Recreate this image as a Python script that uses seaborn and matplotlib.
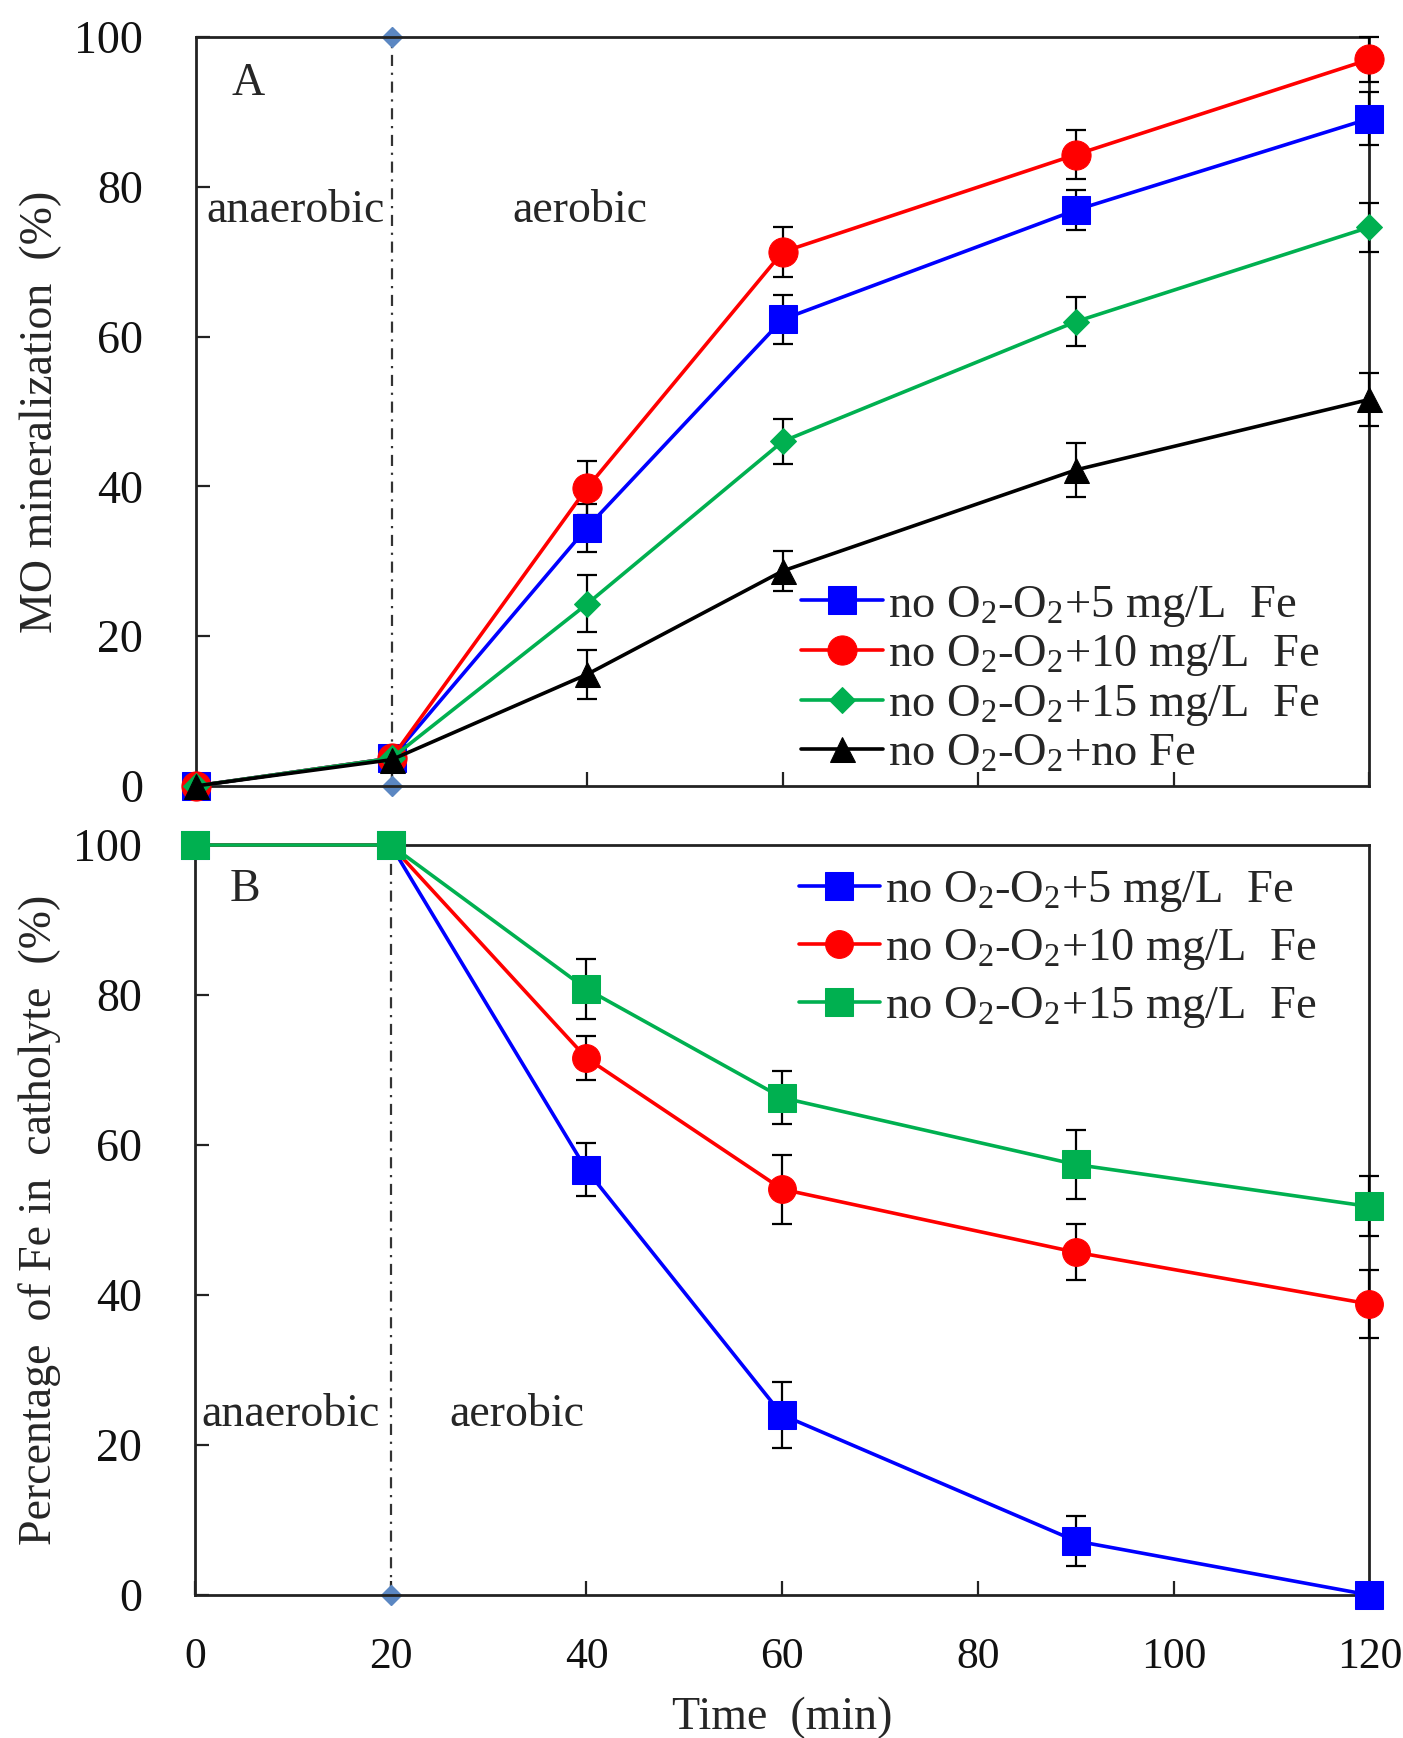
import numpy as np
import pandas as pd
import matplotlib
matplotlib.use("Agg")
import matplotlib.pyplot as plt
import seaborn as sns

# ---------------- data ----------------
time = [0, 20, 40, 60, 90, 120]

labels_A = [r"no O$_2$-O$_2$+5 mg/L  Fe", r"no O$_2$-O$_2$+10 mg/L  Fe",
            r"no O$_2$-O$_2$+15 mg/L  Fe", r"no O$_2$-O$_2$+no Fe"]
A_fe5 = [0, 3.7, 34.5, 62.3, 76.9, 89.1]
A_fe10 = [0, 3.7, 39.8, 71.3, 84.3, 97.0]
A_fe15 = [0, 3.7, 24.3, 46.0, 62.0, 74.6]
A_nofe = [0, 3.5, 14.9, 28.7, 42.2, 51.6]
A_fe5_err = [0, 0, 3.2, 3.3, 2.7, 3.5]
A_fe10_err = [0, 0, 3.6, 3.3, 3.3, 3.0]
A_fe15_err = [0, 0, 3.8, 3.0, 3.3, 3.3]
A_nofe_err = [0, 0, 3.3, 2.7, 3.6, 3.5]

labels_B = [r"no O$_2$-O$_2$+5 mg/L  Fe", r"no O$_2$-O$_2$+10 mg/L  Fe",
            r"no O$_2$-O$_2$+15 mg/L  Fe"]
B_fe5 = [100, 100, 56.7, 24.0, 7.2, 0]
B_fe10 = [100, 100, 71.6, 54.1, 45.7, 38.8]
B_fe15 = [100, 100, 80.8, 66.3, 57.4, 51.8]
B_fe5_err = [0, 0, 3.5, 4.4, 3.3, 0]
B_fe10_err = [0, 0, 3.0, 4.6, 3.7, 4.5]
B_fe15_err = [0, 0, 4.0, 3.5, 4.6, 4.0]

xticks = [0, 20, 40, 60, 80, 100, 120]
yticks = [0, 20, 40, 60, 80, 100]

# ---------------- style ----------------
sns.set_theme(style="white")
plt.rcParams["font.family"] = ["Liberation Serif", "DejaVu Serif"]
plt.rcParams["mathtext.default"] = "regular"
plt.rcParams["axes.edgecolor"] = "#222222"

FS = 33
XFS = 31.5
LFS = 33.5
fig = plt.figure(figsize=(14.03, 17.38), dpi=100)
axA = fig.add_axes([0.1397, 0.5478, 0.976 - 0.1397, 0.9787 - 0.5478])
axB = fig.add_axes([0.1390, 0.0823, 0.976 - 0.1390, 0.5138 - 0.0823])

BLUE, RED, GREEN, BLACK = "#0000ff", "#ff0000", "#00b050", "#000000"


def draw_series(ax, y, err, color, marker, ms, label):
    df = pd.DataFrame({"t": time, "v": y})
    sns.lineplot(data=df, x="t", y="v", ax=ax, color=color, marker=marker,
                 markersize=ms, markeredgecolor=color, linewidth=2.6,
                 label=label, clip_on=False, zorder=4, legend=False)
    ax.errorbar(time, y, yerr=err, fmt="none", ecolor="black", elinewidth=1.6,
                capsize=7, capthick=1.6, zorder=3, clip_on=False)


def style_axis(ax, show_xlabels):
    ax.set_xlim(0, 120)
    ax.set_ylim(0, 100)
    ax.set_xticks(xticks)
    ax.set_yticks(yticks)
    ax.tick_params(axis="both", which="major", direction="in", length=10,
                   width=1.6, colors="#222222", labelsize=FS,
                   labelcolor="#111111", bottom=True, left=True,
                   top=False, right=False)
    ax.tick_params(axis="y", pad=38)
    ax.tick_params(axis="x", pad=30, labelsize=XFS)
    if not show_xlabels:
        ax.set_xticklabels([])
    for s in ax.spines.values():
        s.set_linewidth(2.0)
        s.set_visible(True)
    # boundary line between anaerobic and aerobic stages
    ax.plot([20, 20], [0, 100], color="#333333", linewidth=1.6,
            linestyle=(0, (5, 3, 1, 3)), marker="D", ms=10,
            markerfacecolor="#5b87c2", markeredgecolor="#5b87c2",
            clip_on=False, zorder=2, label="_nolegend_")


# ---------------- panel A ----------------
style_axis(axA, False)
draw_series(axA, A_fe5, A_fe5_err, BLUE, "s", 20, labels_A[0])
draw_series(axA, A_fe10, A_fe10_err, RED, "o", 21, labels_A[1])
draw_series(axA, A_fe15, A_fe15_err, GREEN, "D", 13, labels_A[2])
draw_series(axA, A_nofe, A_nofe_err, BLACK, "^", 18, labels_A[3])
axA.set_xlabel("")
axA.set_ylabel("MO mineralization  (%)", fontsize=FS)
axA.yaxis.set_label_coords(-0.114, 0.5)
axA.text(5.3, 93.8, "A", fontsize=FS, ha="center", va="center")
axA.text(1.1, 76.8, "anaerobic", fontsize=FS, ha="left", va="center")
axA.text(32.4, 76.8, "aerobic", fontsize=FS, ha="left", va="center")
hA = [l for l in axA.get_lines() if not l.get_label().startswith("_")]
axA.legend(handles=hA, loc="upper left", bbox_to_anchor=(0.516, 0.270),
           frameon=False, fontsize=LFS, handlelength=1.75, handletextpad=0.1,
           labelspacing=0.1, borderpad=0, borderaxespad=0)

# ---------------- panel B ----------------
style_axis(axB, True)
draw_series(axB, B_fe5, B_fe5_err, BLUE, "s", 20, labels_B[0])
draw_series(axB, B_fe10, B_fe10_err, RED, "o", 20, labels_B[1])
draw_series(axB, B_fe15, B_fe15_err, GREEN, "s", 20, labels_B[2])
axB.set_xlabel("Time  (min)", fontsize=FS)
axB.xaxis.set_label_coords(0.5, -0.136)
axB.set_ylabel("Percentage  of Fe in  catholyte  (%)", fontsize=FS)
axB.yaxis.set_label_coords(-0.114, 0.5)
axB.text(5.1, 94.1, "B", fontsize=FS, ha="center", va="center")
axB.text(0.6, 24.0, "anaerobic", fontsize=FS, ha="left", va="center")
axB.text(26.0, 24.0, "aerobic", fontsize=FS, ha="left", va="center")
hB = [l for l in axB.get_lines() if not l.get_label().startswith("_")]
axB.legend(handles=hB, loc="upper left", bbox_to_anchor=(0.514, 0.968),
           frameon=False, fontsize=LFS, handlelength=1.75, handletextpad=0.1,
           labelspacing=0.28, borderpad=0, borderaxespad=0)

fig.savefig("out.png", dpi=100, facecolor="white")
